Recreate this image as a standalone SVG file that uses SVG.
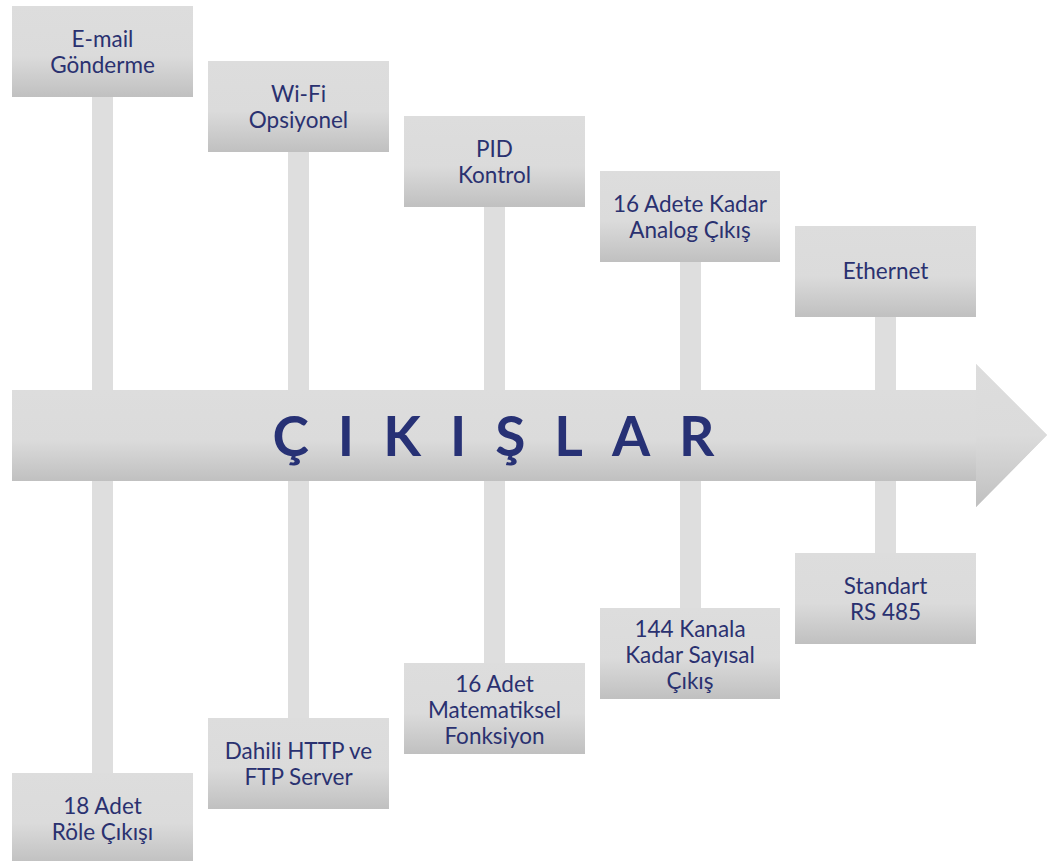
<svg xmlns="http://www.w3.org/2000/svg" width="1061" height="861" viewBox="0 0 1061 861">
<defs>
<linearGradient id="g" x1="0" y1="0" x2="0" y2="1">
<stop offset="0" stop-color="#dddddd"/>
<stop offset="0.55" stop-color="#dbdbdb"/>
<stop offset="1" stop-color="#c0c0c0"/>
</linearGradient>
<linearGradient id="ga" gradientUnits="userSpaceOnUse" x1="0" y1="364" x2="0" y2="507">
<stop offset="0" stop-color="#dddddd"/>
<stop offset="0.5" stop-color="#dbdbdb"/>
<stop offset="1" stop-color="#c0c0c0"/>
</linearGradient>
<linearGradient id="gb" gradientUnits="userSpaceOnUse" x1="0" y1="390" x2="0" y2="481">
<stop offset="0" stop-color="#dddddd"/>
<stop offset="0.55" stop-color="#dbdbdb"/>
<stop offset="1" stop-color="#c0c0c0"/>
</linearGradient>
</defs>
<style>
.bar{fill:#dedede}
.box{fill:url(#g)}
.t{font-family:Lato,"Open Sans","Liberation Sans",sans-serif;font-size:22.5px;fill:#2a3170;text-anchor:middle}
.big{font-family:Lato,"Open Sans","Liberation Sans",sans-serif;font-size:55px;font-weight:bold;fill:#273175;text-anchor:middle;letter-spacing:29px}
</style>
<g id="connectors">
<rect class="bar" x="92" y="97" width="21" height="676"/>
<rect class="bar" x="288" y="152" width="21" height="566"/>
<rect class="bar" x="484" y="207" width="21" height="456"/>
<rect class="bar" x="680" y="262" width="21" height="346"/>
<rect class="bar" x="875" y="317" width="21" height="236"/>
</g>
<g id="arrow">
<path d="M12 390 H976 V364 L1047 435 L976 507 V481 H12 Z" fill="url(#gb)"/>
<path d="M976 364 L1047 435 L976 507 Z" fill="url(#ga)"/>
<text class="big" x="508" y="456">ÇIKIŞLAR</text>
</g>
<g id="n1"><rect class="box" x="12" y="6" width="181" height="91"/><text class="t" x="102.5" y="47">E-mail</text><text class="t" x="102.5" y="73">Gönderme</text></g>
<g id="n2"><rect class="box" x="208" y="61" width="181" height="91"/><text class="t" x="298.5" y="102">Wi-Fi</text><text class="t" x="298.5" y="128">Opsiyonel</text></g>
<g id="n3"><rect class="box" x="404" y="116" width="181" height="91"/><text class="t" x="494.5" y="157">PID</text><text class="t" x="494.5" y="183">Kontrol</text></g>
<g id="n4"><rect class="box" x="600" y="171" width="180" height="91"/><text class="t" x="690" y="212">16 Adete Kadar</text><text class="t" x="690" y="238">Analog Çıkış</text></g>
<g id="n5"><rect class="box" x="795" y="226" width="181" height="91"/><text class="t" x="885.5" y="279">Ethernet</text></g>
<g id="n6"><rect class="box" x="12" y="773" width="181" height="91"/><text class="t" x="102.5" y="814">18 Adet</text><text class="t" x="102.5" y="840">Röle Çıkışı</text></g>
<g id="n7"><rect class="box" x="208" y="718" width="181" height="91"/><text class="t" x="298.5" y="759">Dahili HTTP ve</text><text class="t" x="298.5" y="785">FTP Server</text></g>
<g id="n8"><rect class="box" x="404" y="663" width="181" height="91"/><text class="t" x="494.5" y="692">16 Adet</text><text class="t" x="494.5" y="718">Matematiksel</text><text class="t" x="494.5" y="744">Fonksiyon</text></g>
<g id="n9"><rect class="box" x="600" y="608" width="180" height="91"/><text class="t" x="690" y="637">144 Kanala</text><text class="t" x="690" y="663">Kadar Sayısal</text><text class="t" x="690" y="689">Çıkış</text></g>
<g id="n10"><rect class="box" x="795" y="553" width="181" height="91"/><text class="t" x="885.5" y="594">Standart</text><text class="t" x="885.5" y="620">RS 485</text></g>
</svg>
